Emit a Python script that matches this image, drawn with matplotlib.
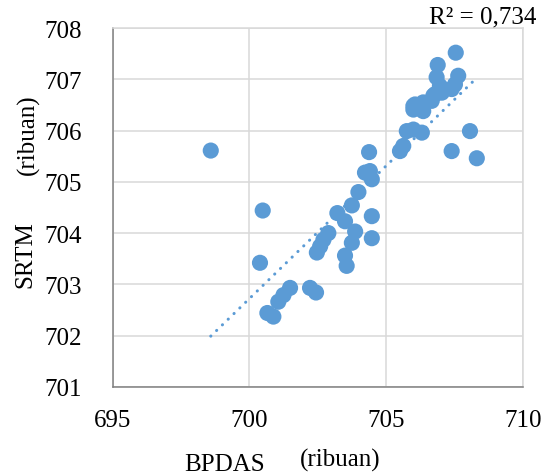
"""Scatter of SRTM vs BPDAS elevations with linear trendline."""

import matplotlib

matplotlib.use("Agg")
import matplotlib.pyplot as plt  # noqa: E402
import numpy as np  # noqa: E402

BLUE = "#5B9BD5"
GRID = "#D9D9D9"

# values (ribuan)
bpdas = [
    698.59, 700.49, 700.39, 700.66, 700.88, 701.06, 701.25, 701.49, 702.22, 702.44,
    702.47, 702.59, 702.71, 702.89, 703.22, 703.50, 703.75, 703.99, 704.38, 704.23,
    704.41, 704.48, 704.48, 703.87, 703.75, 704.48, 703.50, 703.56, 705.51, 705.63,
    705.76, 706.00, 706.31, 706.00, 706.06, 706.00, 706.36, 706.36, 706.73, 707.04,
    706.79, 706.67, 706.85, 706.97, 706.89, 707.55, 707.64, 707.52, 707.40, 707.40,
    708.07, 708.32,
]
srtm = [
    705.61, 704.44, 703.42, 702.44, 702.37, 702.66, 702.79, 702.93, 702.93, 702.84,
    703.62, 703.74, 703.87, 704.00, 704.39, 704.23, 704.54, 704.80, 705.58, 705.18,
    705.21, 705.05, 704.33, 704.03, 703.81, 703.90, 703.56, 703.36, 705.60, 705.70,
    705.99, 706.02, 705.96, 706.48, 706.51, 706.41, 706.38, 706.55, 706.68, 706.74,
    706.71, 706.58, 707.04, 706.87, 707.28, 707.52, 707.07, 706.90, 706.81, 705.60,
    705.99, 705.46,
]

x_ticks = [695, 700, 705, 710]
y_ticks = [701, 702, 703, 704, 705, 706, 707, 708]

plt.rcParams["font.family"] = ["Liberation Serif", "DejaVu Serif"]
FS = 18

fig = plt.figure(figsize=(5.52, 4.77), dpi=100)
ax = fig.add_axes([0.204, 0.187, 0.743, 0.752])

ax.scatter(bpdas, srtm, s=135, color=BLUE, edgecolors="none", zorder=3)

# linear trendline over data range
x = np.array(bpdas)
slope, icpt = np.polyfit(x, np.array(srtm), 1)
xs = np.array([x.min(), x.max()])
ax.plot(xs, slope * xs + icpt, color=BLUE, lw=2.2, linestyle=(0, (0.05, 2.6)),
        dash_capstyle="round", zorder=4)

ax.set_xlim(695, 710)
ax.set_ylim(701, 708)
ax.set_xticks(x_ticks)
ax.set_yticks(y_ticks)
ax.tick_params(length=0, labelsize=FS)
ax.tick_params(axis="y", pad=22)
ax.tick_params(axis="x", pad=16)

ax.grid(True, color=GRID, lw=1.1, zorder=0)
ax.set_axisbelow(True)
for side in ("top", "right"):
    ax.spines[side].set_color(GRID)
    ax.spines[side].set_linewidth(1.1)
for side in ("left", "bottom"):
    ax.spines[side].set_color("#808080")
    ax.spines[side].set_linewidth(1.1)

fig.text(536 / 552, 1 - 17 / 477, "R² = 0,734", ha="right", va="center", fontsize=FS)
fig.text(225 / 552, 1 - 465 / 477, "BPDAS", ha="center", va="center", fontsize=FS)
fig.text(340 / 552, 1 - 460 / 477, "(ribuan)", ha="center", va="center", fontsize=FS)
fig.text(25 / 552, 1 - 255 / 477, "SRTM", ha="center", va="center", rotation=90, fontsize=FS)
fig.text(28 / 552, 1 - 135 / 477, "(ribuan)", ha="center", va="center", rotation=90, fontsize=FS)

fig.savefig("out.png", dpi=100)
